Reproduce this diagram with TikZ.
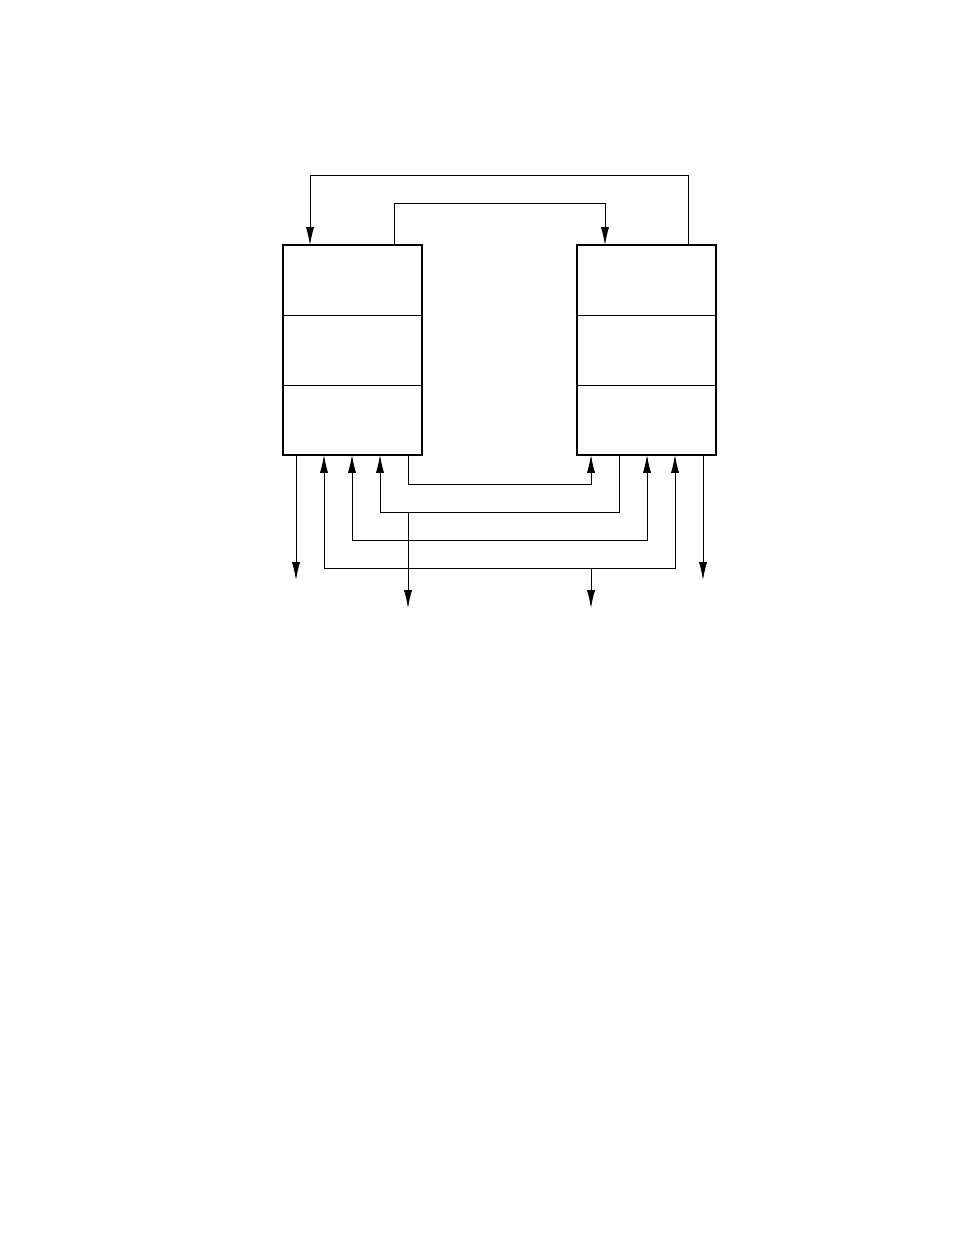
\documentclass[tikz,border=0pt]{standalone}
\usetikzlibrary{arrows.meta}
\begin{document}
\begin{tikzpicture}[x=0.6415pt,y=-0.6415pt,
	part/.style={shape=rectangle, draw, line width=0.6pt, minimum width=89.2pt, minimum height=44.9pt, inner sep=0pt, outer sep=0pt},
	wire/.style={line width=0.5pt},
	tip/.style={-{Latex[length=11.5pt,width=5.2pt]}},
	tips/.style={{Latex[length=11.5pt,width=5.2pt]}-{Latex[length=11.5pt,width=5.2pt]}}]
	\useasboundingbox (0,0) rectangle (954,1235);

	% left unit
	\node[part] (l1) at (352.5,280) {};
	\node[part] (l2) at (352.5,350) {};
	\node[part] (l3) at (352.5,420) {};
	\draw[line width=1.2pt] (l1.north west) rectangle (l3.south east);

	% right unit
	\node[part] (r1) at (646.5,280) {};
	\node[part] (r2) at (646.5,350) {};
	\node[part] (r3) at (646.5,420) {};
	\draw[line width=1.2pt] (r1.north west) rectangle (r3.south east);

	% free ends
	\coordinate (o1) at (296,580);
	\coordinate (o2) at (408,608);
	\coordinate (o3) at (591,608);
	\coordinate (o4) at (703,580);
	\coordinate (j1) at (408,512);
	\coordinate (j2) at (591,568);

	% top links
	\draw[wire, tip] (r1.north -| 688,0) -- (688,175) -- (310,175) -- (l1.north -| 310,0);
	\draw[wire, tip] (l1.north -| 394,0) -- (394,203) -- (605,203) -- (r1.north -| 605,0);

	% bottom links
	\draw[wire, tip] (l3.south -| 296,0) -- (o1);
	\draw[wire, tip] (r3.south -| 703,0) -- (o4);
	\draw[wire, tip] (l3.south -| 408,0) -- (408,484) -- (591,484) -- (r3.south -| 591,0);
	\draw[wire, tip] (r3.south -| 619,0) -- (619,512) -- (380,512) -- (l3.south -| 380,0);
	\draw[wire, tips] (l3.south -| 352,0) -- (352,540) -- (647,540) -- (r3.south -| 647,0);
	\draw[wire, tips] (l3.south -| 324,0) -- (324,568) -- (675,568) -- (r3.south -| 675,0);
	\draw[wire, tip] (j1) -- (o2);
	\draw[wire, tip] (j2) -- (o3);
\end{tikzpicture}
\end{document}
